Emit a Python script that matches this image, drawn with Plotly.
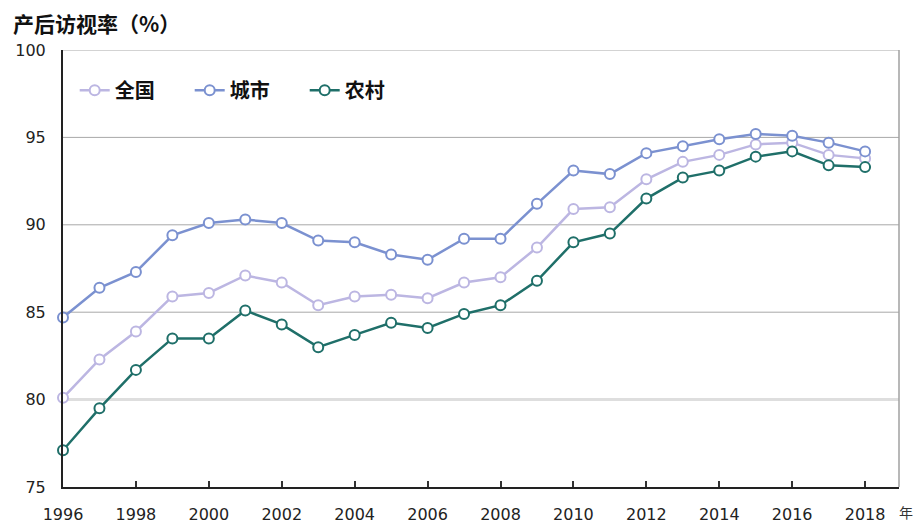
import plotly.graph_objects as go

years = list(range(1996, 2019))
national = [80.1, 82.3, 83.9, 85.9, 86.1, 87.1, 86.7, 85.4, 85.9, 86.0, 85.8, 86.7, 87.0,
            88.7, 90.9, 91.0, 92.6, 93.6, 94.0, 94.6, 94.7, 94.0, 93.8]
urban = [84.7, 86.4, 87.3, 89.4, 90.1, 90.3, 90.1, 89.1, 89.0, 88.3, 88.0, 89.2, 89.2,
         91.2, 93.1, 92.9, 94.1, 94.5, 94.9, 95.2, 95.1, 94.7, 94.2]
rural = [77.1, 79.5, 81.7, 83.5, 83.5, 85.1, 84.3, 83.0, 83.7, 84.4, 84.1, 84.9, 85.4,
         86.8, 89.0, 89.5, 91.5, 92.7, 93.1, 93.9, 94.2, 93.4, 93.3]
series_names = ["全国", "城市", "农村"]
xtick_vals = list(range(1996, 2019, 2))
ytick_vals = [75, 80, 85, 90, 95, 100]

colors = ["#bcb6e2", "#7b91d0", "#1f6f69"]
font_cjk = "Noto Sans CJK SC"

fig = go.Figure()
for name, vals, c in zip(series_names, [national, urban, rural], colors):
    fig.add_trace(go.Scatter(
        x=years, y=vals, name=name, mode="lines+markers",
        line=dict(color=c, width=2.5),
        marker=dict(size=10, color="white", line=dict(color=c, width=2)),
        cliponaxis=False,
    ))

# grid lines
for v in [85, 90, 95, 100]:
    fig.add_hline(y=v, line=dict(color="#a8a8a8", width=1), layer="below")
fig.add_hline(y=80, line=dict(color="#dedede", width=3), layer="below")

# right border
fig.add_shape(type="line", xref="paper", yref="paper", x0=1, x1=1, y0=0, y1=1,
              line=dict(color="#a0a0a0", width=1.5))

fig.update_layout(
    width=915, height=516,
    margin=dict(l=55, r=24, t=42, b=37, autoexpand=False),
    paper_bgcolor="white", plot_bgcolor="white",
    font=dict(family=font_cjk, color="#222"),
    showlegend=True,
    legend=dict(orientation="h", x=0.014, y=0.908, xanchor="left", yanchor="middle",
                font=dict(family=font_cjk, size=20, color="#111", weight="bold"),
                bgcolor="rgba(0,0,0,0)", tracegroupgap=0, entrywidth=70),
    xaxis=dict(range=[1996, 2018.93], tickvals=xtick_vals, ticktext=[str(v) for v in xtick_vals],
               showgrid=False, zeroline=False, showline=True, linecolor="#222", linewidth=2,
               ticks="inside", ticklen=6, tickcolor="#333", tickwidth=1.5, ticklabelstandoff=12,
               tickfont=dict(family="DejaVu Sans", size=16, color="#222")),
    yaxis=dict(range=[75, 100], tickvals=ytick_vals, showgrid=False, zeroline=False,
               showline=True, linecolor="#222", linewidth=2, ticks="", ticklabelstandoff=12,
               tickfont=dict(family="DejaVu Sans", size=16, color="#222")),
    annotations=[
        dict(text="产后访视率（%）", xref="paper", yref="paper", x=-52/836, y=1,
             xanchor="left", yanchor="bottom", yshift=10, showarrow=False,
             font=dict(family=font_cjk, size=21, color="#111", weight="bold")),
        dict(text="年", xref="paper", yref="paper", x=1, y=0, xanchor="left", yanchor="middle",
             xshift=-2, yshift=-25, showarrow=False,
             font=dict(family=font_cjk, size=14, color="#333")),
    ],
)

fig.write_html("out.html")
